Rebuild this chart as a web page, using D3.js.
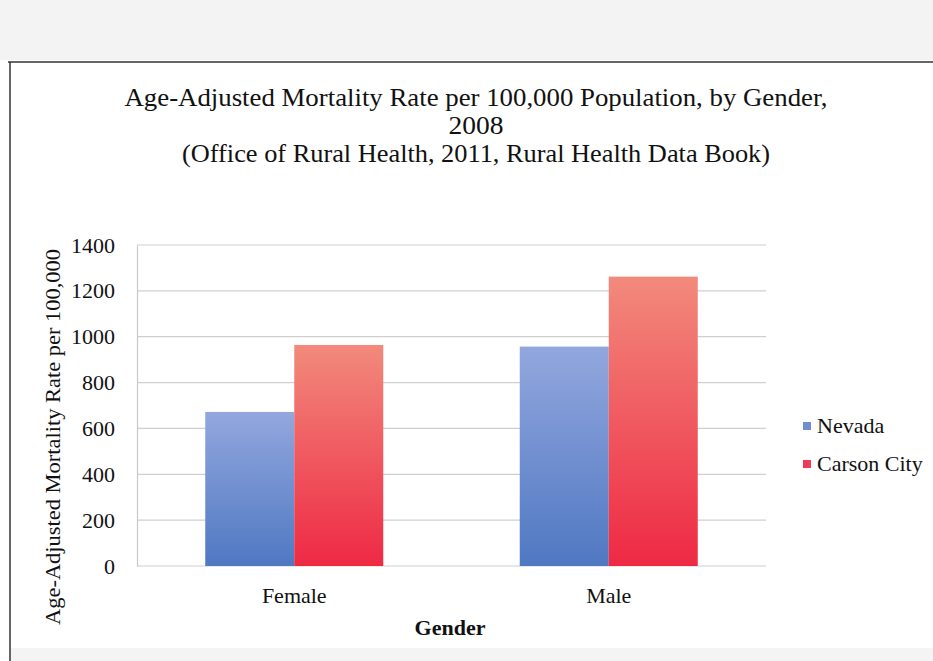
<!DOCTYPE html>
<html>
<head>
<meta charset="utf-8">
<script src="https://cdn.jsdelivr.net/npm/d3@7"></script>
<style>
  html, body { margin: 0; padding: 0; background: #fff; }
  svg { display: block; }
  text { font-family: "Liberation Serif", "DejaVu Serif", serif; fill: #111; }
</style>
</head>
<body>
<svg id="chart" width="933" height="661"></svg>
<script>
// Age-adjusted mortality per 100,000, 2008
const categories = ["Female", "Male"];
const seriesNames = ["Nevada", "Carson City"];
const nevada = [672, 957];
const carsonCity = [964, 1262];
const yTicks = [0, 200, 400, 600, 800, 1000, 1200, 1400];
const titleLines = [
  "Age-Adjusted Mortality Rate per 100,000 Population, by Gender,",
  "2008",
  "(Office of Rural Health, 2011, Rural Health Data Book)"
];
const titleWidths = [703, 55, 588];
const yAxisTitle = "Age-Adjusted Mortality Rate per 100,000";
const xAxisTitle = "Gender";

const svg = d3.select("#chart");
const W = 933, H = 661;

// page frame: grey strip on top, border lines
svg.append("rect").attr("x", 0).attr("y", 0).attr("width", W).attr("height", 60).attr("fill", "#f3f3f3");
svg.append("line").attr("x1", 8).attr("x2", W).attr("y1", 62).attr("y2", 62)
  .attr("stroke", "#666").attr("stroke-width", 2);
svg.append("line").attr("x1", 10).attr("x2", 10).attr("y1", 62).attr("y2", 661)
  .attr("stroke", "#333").attr("stroke-width", 1.5);
svg.append("rect").attr("x", 11).attr("y", 648).attr("width", W - 11).attr("height", 13).attr("fill", "#f4f4f4");

const defs = svg.append("defs");
const grads = [
  { id: "gNev", top: "#93a7de", bottom: "#4f78c2" },
  { id: "gCar", top: "#f28a7c", bottom: "#ee2944" }
];
grads.forEach(g => {
  const lg = defs.append("linearGradient").attr("id", g.id)
    .attr("x1", 0).attr("y1", 0).attr("x2", 0).attr("y2", 1);
  lg.append("stop").attr("offset", "0%").attr("stop-color", g.top);
  lg.append("stop").attr("offset", "100%").attr("stop-color", g.bottom);
});

const plot = { left: 137, right: 766, top: 245, bottom: 566 };

const y = d3.scaleLinear().domain([0, 1400]).range([plot.bottom, plot.top]);
const x0 = d3.scaleBand().domain(categories).range([plot.left, plot.right]).paddingInner(0.434).paddingOuter(0.217);
const x1 = d3.scaleBand().domain(seriesNames).range([0, x0.bandwidth()]).padding(0);

// title, three centred lines
const title = svg.append("g");
titleLines.forEach((t, i) => {
  title.append("text")
    .attr("x", 476).attr("y", 106 + i * 28)
    .attr("text-anchor", "middle")
    .attr("font-size", 25)
    .attr("textLength", titleWidths[i])
    .attr("lengthAdjust", "spacingAndGlyphs")
    .text(t);
});

// gridlines
svg.append("g")
  .selectAll("line")
  .data(yTicks)
  .join("line")
  .attr("x1", plot.left).attr("x2", plot.right)
  .attr("y1", d => y(d)).attr("y2", d => y(d))
  .attr("stroke", "#cfcfcf").attr("stroke-width", 1.2);

// y axis
const yAxis = d3.axisLeft(y).tickValues(yTicks).tickSize(0).tickPadding(22).tickFormat(d3.format("d"));
const gy = svg.append("g").attr("transform", `translate(${plot.left},0)`).call(yAxis);
gy.attr("font-size", null).attr("font-family", null);
gy.select(".domain").attr("stroke", "#c8c8c8").attr("stroke-width", 1.2);
gy.selectAll("text").style("font-size", "22px").style("font-family", "Liberation Serif, serif").attr("fill", "#111");

// bars
const rows = categories.map((c, i) => ({ cat: c, vals: [
  { s: seriesNames[0], v: nevada[i], fill: "url(#gNev)" },
  { s: seriesNames[1], v: carsonCity[i], fill: "url(#gCar)" }
]}));
svg.append("g")
  .selectAll("g")
  .data(rows)
  .join("g")
  .attr("transform", d => `translate(${x0(d.cat)},0)`)
  .selectAll("rect")
  .data(d => d.vals)
  .join("rect")
  .attr("x", d => x1(d.s))
  .attr("y", d => y(d.v))
  .attr("width", x1.bandwidth())
  .attr("height", d => y(0) - y(d.v))
  .attr("fill", d => d.fill);

// category labels
const xAxis = d3.axisBottom(x0).tickSize(0).tickPadding(37);
const gx = svg.append("g").attr("transform", `translate(0,${plot.bottom})`).call(xAxis);
gx.attr("font-size", null).attr("font-family", null);
gx.select(".domain").remove();
gx.selectAll("text").attr("dy", 0).style("font-size", "22px").style("font-family", "Liberation Serif, serif").attr("fill", "#111");

// axis titles
svg.append("text")
  .attr("transform", `translate(53,437) rotate(-90)`)
  .attr("text-anchor", "middle")
  .attr("dy", "0.35em")
  .attr("font-size", 21)
  .attr("textLength", 376)
  .attr("lengthAdjust", "spacingAndGlyphs")
  .text(yAxisTitle);

svg.append("text")
  .attr("x", 450).attr("y", 635)
  .attr("text-anchor", "middle")
  .attr("font-size", 22)
  .attr("font-weight", "bold")
  .text(xAxisTitle);

// legend
const legend = svg.append("g").attr("transform", "translate(800,433)");
const legendFills = ["#6f8fd0", "#ee3b58"];
seriesNames.forEach((s, i) => {
  const g = legend.append("g").attr("transform", `translate(0,${i * 38})`);
  g.append("rect").attr("x", 3).attr("y", -11).attr("width", 8).attr("height", 8).attr("fill", legendFills[i]);
  g.append("text").attr("x", 17).attr("y", 0).attr("font-size", 22).text(s);
});
</script>
</body>
</html>
